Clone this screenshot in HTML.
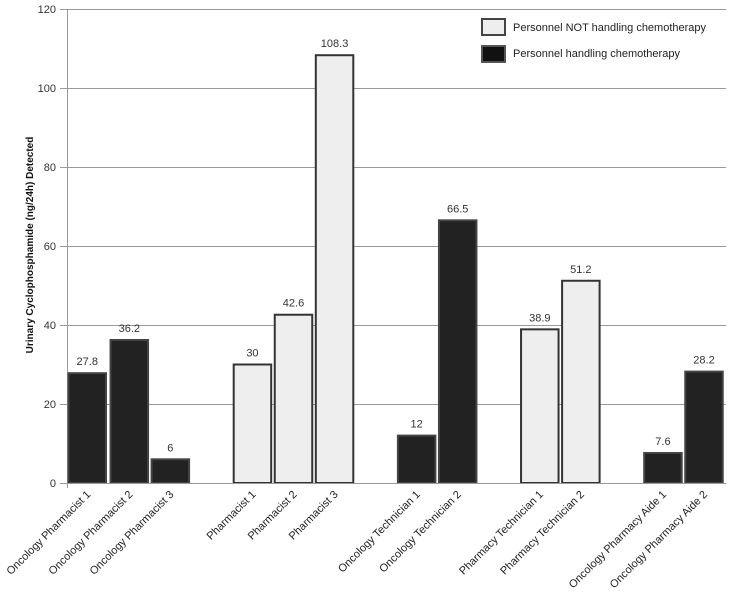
<!DOCTYPE html><html><head><style>body{margin:0;background:#fff}</style></head><body>
<svg width="732" height="600" xmlns="http://www.w3.org/2000/svg" font-family="Liberation Sans, sans-serif">
<g stroke="#999" stroke-width="1">
<line x1="60" y1="9.5" x2="726" y2="9.5"/><line x1="60" y1="88.5" x2="726" y2="88.5"/><line x1="60" y1="167.5" x2="726" y2="167.5"/><line x1="60" y1="246.5" x2="726" y2="246.5"/><line x1="60" y1="325.5" x2="726" y2="325.5"/><line x1="60" y1="404.5" x2="726" y2="404.5"/>
<line x1="67.5" y1="9" x2="67.5" y2="488"/>
</g>
<g font-size="11" fill="#333" text-anchor="end">
<text x="56" y="487">0</text><text x="56" y="408">20</text><text x="56" y="329">40</text><text x="56" y="250">60</text><text x="56" y="171">80</text><text x="56" y="92">100</text><text x="56" y="13">120</text></g>
<text transform="translate(33,245) rotate(-90)" text-anchor="middle" font-size="10" font-weight="bold" fill="#111">Urinary Cyclophosphamide  (ng/24h) Detected</text>
<g id="bars" stroke-width="2"></g>
<line x1="60" y1="483.5" x2="726" y2="483.5" stroke="#999"/>
<g font-size="11" fill="#333" text-anchor="middle" id="vals"></g>
<g font-size="11" fill="#222" text-anchor="end" id="labs"></g>
<rect x="482" y="19" width="23" height="16" fill="#eee" stroke="#444" stroke-width="2"/>
<rect x="482" y="46" width="23" height="16" fill="#111" stroke="#555" stroke-width="2"/>
<text x="513" y="31" font-size="11" fill="#222">Personnel NOT handling chemotherapy</text>
<text x="513" y="57" font-size="11" fill="#222">Personnel handling chemotherapy</text>
<script>
var d=[[0,27.8,1,"Oncology Pharmacist 1"],[1,36.2,1,"Oncology Pharmacist 2"],[2,6,1,"Oncology Pharmacist 3"],[4,30,0,"Pharmacist 1"],[5,42.6,0,"Pharmacist 2"],[6,108.3,0,"Pharmacist 3"],[8,12,1,"Oncology Technician 1"],[9,66.5,1,"Oncology Technician 2"],[11,38.9,0,"Pharmacy Technician 1"],[12,51.2,0,"Pharmacy Technician 2"],[14,7.6,1,"Oncology Pharmacy Aide 1"],[15,28.2,1,"Oncology Pharmacy Aide 2"]];
var ns="http://www.w3.org/2000/svg",B=document.getElementById("bars"),V=document.getElementById("vals"),L=document.getElementById("labs");
function el(t,a,p,tx){var e=document.createElementNS(ns,t);for(var k in a)e.setAttribute(k,a[k]);if(tx)e.textContent=tx;p.appendChild(e);}
d.forEach(function(r){var x=67+r[0]*41.05+1.5+(r[0]>0?1:0),w=37.5,h=r[1]*3.95,y=483-h;
el("rect",{x:x,y:y,width:w,height:h,fill:r[2]?"#222":"#eee",stroke:r[2]?"#444":"#333"},B);
el("text",{x:x+w/2,y:y-8},V,String(r[1]));
var cx=x+w/2+4;el("text",{transform:"translate("+cx+",495) rotate(-45)"},L,r[3]);});
</script>
</svg></body></html>
